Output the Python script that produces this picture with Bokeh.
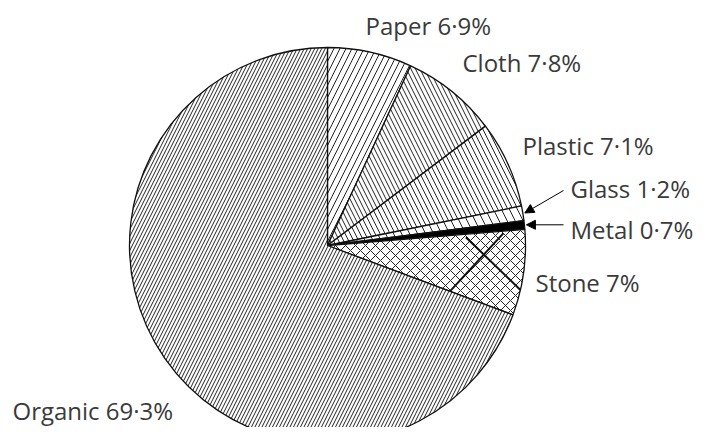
import numpy as np
from bokeh.plotting import figure
from bokeh.models import ColumnDataSource, Arrow, NormalHead, Range1d
from bokeh.core.properties import value
from bokeh.embed import file_html
from bokeh.resources import INLINE

# ---------------- data ----------------
categories = ["Paper", "Cloth", "Plastic", "Glass", "Metal", "Stone", "Organic"]
percent = [6.9, 7.8, 7.1, 1.2, 0.7, 7.0, 69.3]
label_text = ["Paper 6·9%", "Cloth 7·8%", "Plastic 7·1%", "Glass 1·2%",
              "Metal 0·7%", "Stone 7%", "Organic 69·3%"]

# ---------------- layout / style ----------------
W, H = 704, 427
CX, CY = 327, 182          # pie centre (data units == pixels)
R = 198                    # pie radius

fill_colors = ["white", "white", "white", "white", "black", "white", "white"]
hatch_patterns = ["/", "\\", "\\", "\\", " ", "x", "/"]
hatch_scales = [12, 9, 10, 16, 6, 10, 7]

# label anchors in picture pixels (left, vertical middle)
label_px = [(365, 25), (462, 62), (522, 145), (570, 188), (570, 229), (535, 282), (12, 410)]
arrowed = ["Glass", "Metal"]


def to_data(px, py):
    return px, H - py


# ---------------- geometry from data ----------------
frac = np.array(percent) / sum(percent)
cum = np.concatenate([[0], np.cumsum(frac)])
start_deg = 90 - cum[1:] * 360
end_deg = 90 - cum[:-1] * 360

src = ColumnDataSource(dict(
    cat=categories,
    start=np.radians(start_deg),
    end=np.radians(end_deg),
    fill=fill_colors,
    hatch=hatch_patterns,
    hs=hatch_scales,
))

p = figure(width=W, height=H, output_backend="svg", toolbar_location=None,
           x_range=Range1d(0, W), y_range=Range1d(0, H),
           x_axis_location=None, y_axis_location=None,
           min_border=0, outline_line_color=None)
p.grid.visible = False
p.background_fill_color = "white"

p.wedge(x=CX, y=CY, radius=R, start_angle="start", end_angle="end",
        direction="anticlock", source=src,
        fill_color="fill", line_color="#111111", line_width=1.3,
        hatch_pattern="hatch", hatch_scale="hs", hatch_color="#222222",
        hatch_weight=1.0)

# decorative heavy strokes inside the Stone slice
si = categories.index("Stone")
s_top, s_bot = end_deg[si], start_deg[si]
span = s_top - s_bot


def polar(rf, ang_deg):
    a = np.radians(ang_deg)
    return CX + rf * R * np.cos(a), CY + rf * R * np.sin(a)


seg = [((0.70, s_top - 0.05 * span), (1.0, s_top - 0.70 * span)),
       ((0.89, s_top - 0.03 * span), (0.66, s_bot))]
xs, ys = [], []
for (r0, a0), (r1, a1) in seg:
    x0, y0 = polar(r0, a0)
    x1, y1 = polar(r1, a1)
    xs.append([x0, x1])
    ys.append([y0, y1])
p.multi_line(xs, ys, line_color="#111111", line_width=2)

# labels
lx = [to_data(*q)[0] for q in label_px]
ly = [to_data(*q)[1] for q in label_px]
p.text(x=lx, y=ly, text=label_text, text_font=value("Open Sans"),
       text_font_size="24px", text_color="#3a3a3a",
       text_baseline="middle", text_align="left")

# arrows for thin slices
for name in arrowed:
    i = categories.index(name)
    mid = (start_deg[i] + end_deg[i]) / 2
    tx, ty = polar(1.01, mid)
    sx = lx[i] - 7
    sy = ty if name == "Metal" else ly[i] - 2
    p.add_layout(Arrow(end=NormalHead(size=9, fill_color="black", line_color="black"),
                       x_start=sx, y_start=sy, x_end=tx, y_end=ty,
                       line_color="black", line_width=1))

open("out.html", "w").write(file_html(p, INLINE))
